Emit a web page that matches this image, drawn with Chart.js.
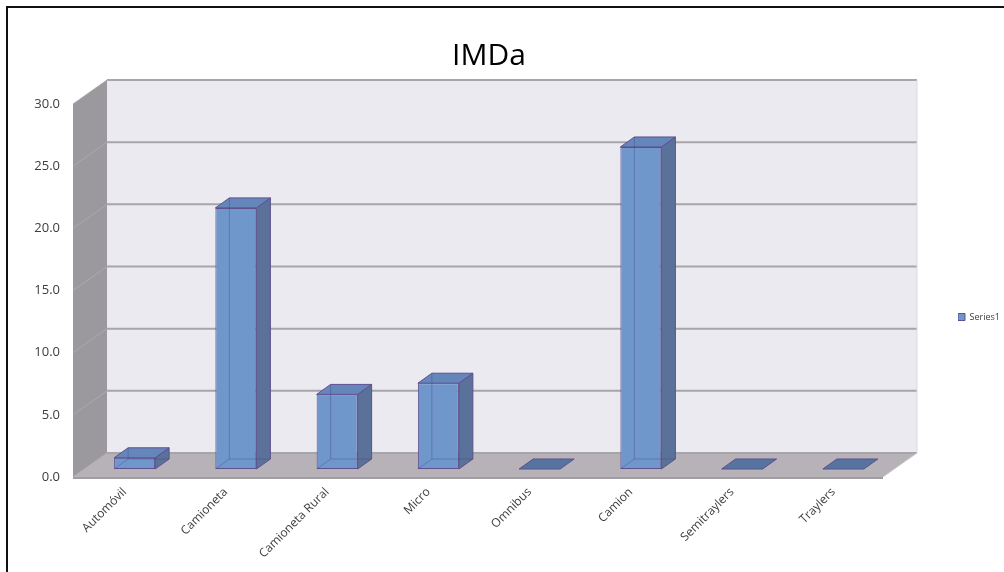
<!DOCTYPE html>
<html>
<head>
<meta charset="utf-8">
<script src="https://cdn.jsdelivr.net/npm/chart.js@4.4.1/dist/chart.umd.min.js"></script>
<style>
  html, body { margin: 0; padding: 0; background: #fff; }
  #wrap  { position: relative; width: 1004px; height: 572px; overflow: hidden; }
  #chart { display: block; }
  #frame { position: absolute; left: 6px; top: 6px; right: 0; bottom: 0;
           border-top: 2px solid #111; border-left: 2px solid #111; pointer-events: none; }
</style>
</head>
<body>
<div id="wrap">
  <canvas id="chart" width="1004" height="572"></canvas>
  <div id="frame"></div>
</div>
<script>
// ─── Datos ────────────────────────────────────────────────────────
const CATEGORIES = ['Automóvil', 'Camioneta', 'Camioneta Rural', 'Micro',
                    'Omnibus', 'Camion', 'Semitraylers', 'Traylers'];
const SERIES1    = [0.9, 21.0, 6.0, 6.9, 0, 25.9, 0, 0];
const Y_MIN  = 0;
const Y_MAX  = 30;
const Y_STEP = 5;

// ─── Estilo 3D ────────────────────────────────────────────────────
const FRONT     = { dx: -11, dy: 8 };    // borde delantero del piso
const BACK      = { dx: 23,  dy: -16 };  // pared del fondo
const BAR_DEPTH = { dx: 14,  dy: -10 };

const COL = {
  front: '#6f97cb',
  top:   '#6586bb',
  side:  '#5a7199',
  edge:  '#5f4f8f',
  back:  '#eceaf1',
  wall:  '#9b999e',
  floor: '#b7b2b8',
  grid:  '#a7a5a9',
};

function poly(ctx, pts, fill, stroke) {
  ctx.beginPath();
  ctx.moveTo(pts[0][0], pts[0][1]);
  for (let i = 1; i < pts.length; i++) ctx.lineTo(pts[i][0], pts[i][1]);
  ctx.closePath();
  if (fill)   { ctx.fillStyle = fill; ctx.fill(); }
  if (stroke) { ctx.strokeStyle = stroke; ctx.lineWidth = 1; ctx.stroke(); }
}

function line(ctx, x1, y1, x2, y2, color, w) {
  ctx.beginPath();
  ctx.moveTo(x1, y1);
  ctx.lineTo(x2, y2);
  ctx.strokeStyle = color;
  ctx.lineWidth = w;
  ctx.stroke();
}

const box3d = {
  id: 'box3d',
  beforeLayout(chart) {
    const lg = chart.legend;
    if (lg && !lg._fixedFit) {
      const fit = lg.fit;
      lg.fit = function () { fit.call(this); this.width = 110; };
      lg._fixedFit = true;
    }
  },
  beforeDraw(chart) {
    const lg = chart.legend;
    if (lg) { lg.left = 958; lg.top = 217; lg.bottom = 417; }
  },
  beforeDatasetsDraw(chart) {
    const { ctx, chartArea: a, scales: { y } } = chart;
    const fy = v => y.getPixelForValue(v) + FRONT.dy;
    const by = v => y.getPixelForValue(v) + BACK.dy;
    const fl = a.left + FRONT.dx, fr = a.right + FRONT.dx;
    const bl = a.left + BACK.dx,  br = a.right + BACK.dx;

    ctx.save();
    ctx.fillStyle = COL.back;
    ctx.fillRect(bl, by(Y_MAX), br - bl, by(Y_MIN) - by(Y_MAX));
    poly(ctx, [[fl, fy(Y_MAX)], [bl, by(Y_MAX)], [bl, by(Y_MIN)], [fl, fy(Y_MIN)]], COL.wall);
    poly(ctx, [[fl, fy(Y_MIN)], [bl, by(Y_MIN)], [br, by(Y_MIN)], [fr, fy(Y_MIN)]], COL.floor);

    y.ticks.forEach(t => {
      line(ctx, bl, by(t.value), br, by(t.value), COL.grid, 2);
      line(ctx, fl, fy(t.value), bl, by(t.value), '#acaaaf', 1);
    });
    line(ctx, fl, fy(Y_MIN) + 1, fr, fy(Y_MIN) + 1, '#a19ea3', 2);
    line(ctx, fr, fy(Y_MIN), br, by(Y_MIN), '#d0cdd2', 1);
    line(ctx, br, by(Y_MIN), br, by(Y_MAX), '#dcdae0', 1);
    ctx.restore();
  },
  afterDatasetsDraw(chart) {
    const { ctx } = chart;
    const d = BAR_DEPTH;
    ctx.save();
    chart.getDatasetMeta(0).data.forEach(bar => {
      const { x, y, base, width } = bar.getProps(['x', 'y', 'base', 'width'], true);
      const l = x - width / 2, r = x + width / 2;
      if (base - y > 0.5) {
        poly(ctx, [[r, y], [r + d.dx, y + d.dy], [r + d.dx, base + d.dy], [r, base]], COL.side, COL.edge);
      }
      poly(ctx, [[l, y], [r, y], [r + d.dx, y + d.dy], [l + d.dx, y + d.dy]],
           base - y > 0.5 ? COL.top : '#55749f', COL.edge);
      if (base - y > 0.5) {
        const hid = 'rgba(70,60,130,0.35)';
        line(ctx, l + d.dx, y + d.dy, l + d.dx, base + d.dy, hid, 1);
        line(ctx, l + d.dx, base + d.dy, r + d.dx, base + d.dy, hid, 1);
        line(ctx, l, base, l + d.dx, base + d.dy, hid, 1);
      }
    });
    ctx.restore();
  },
};

Chart.defaults.font.family = '"Open Sans", sans-serif';
Chart.defaults.color = '#3c3c3c';

new Chart(document.getElementById('chart'), {
  type: 'bar',
  data: {
    labels: CATEGORIES,
    datasets: [{
      label:           'Series1',
      data:            SERIES1,
      backgroundColor: COL.front,
      borderColor:     COL.edge,
      borderWidth:     1,
      borderSkipped:   false,
      categoryPercentage: 1,
      barPercentage:   0.405,
    }],
  },
  options: {
    responsive: false,
    animation: false,
    events: [],
    layout: { padding: 0 },
    plugins: {
      title: {
        display: true,
        text: 'IMDa',
        fullSize: false,
        color: '#000',
        font: { size: 30, weight: 'normal', lineHeight: 1.2 },
        padding: { top: 38, bottom: 22 },
      },
      legend: {
        position: 'right',
        labels: {
          boxWidth: 7,
          boxHeight: 7,
          padding: 0,
          color: '#3c3c3c',
          font: { size: 9 },
        },
      },
      tooltip: { enabled: false },
    },
    scales: {
      x: {
        grid: { display: false, drawTicks: false },
        border: { display: false },
        afterFit: s => { s.height = 103; },
        ticks: {
          autoSkip: false,
          minRotation: 45,
          maxRotation: 45,
          padding: 16,
          labelOffset: -10,
          font: { size: 12 },
          color: '#3c3c3c',
        },
      },
      y: {
        min: Y_MIN,
        max: Y_MAX,
        grid: { display: false, drawTicks: false },
        border: { display: false },
        afterFit: s => { s.width = 84; },
        ticks: {
          stepSize: Y_STEP,
          padding: 24,
          labelOffset: 8,
          font: { size: 13 },
          color: '#3c3c3c',
          callback: v => v.toFixed(1),
        },
      },
    },
  },
  plugins: [box3d],
});
</script>
</body>
</html>
